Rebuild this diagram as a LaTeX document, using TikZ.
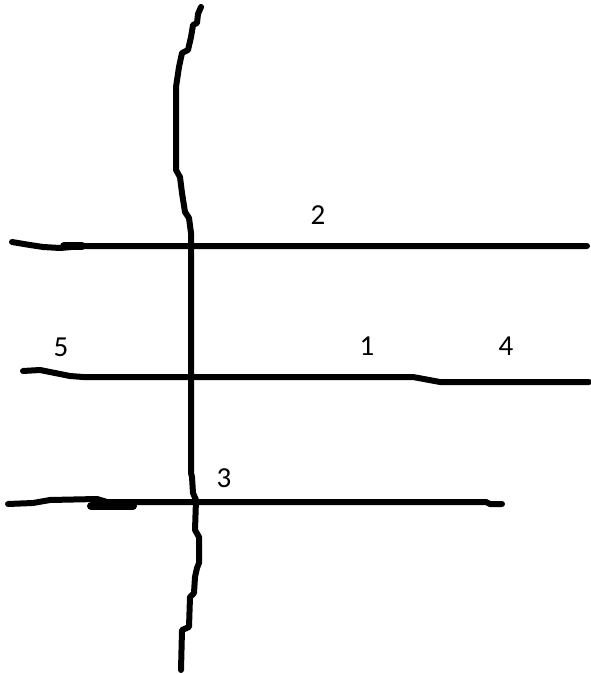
\documentclass[tikz,border=0pt]{standalone}
\usepackage{fontspec}
\setmainfont{Carlito}
\tikzset{
  stroke/.style={line width=6pt, line cap=round, line join=round},
  blob/.style={line width=8pt, line cap=round},
  num/.style={font=\fontsize{29}{29}\selectfont, inner sep=0pt}
}
\begin{document}
\begin{tikzpicture}[x=1pt, y=-1pt] % pixel coordinates, y downwards

        \useasboundingbox (0,0) rectangle (590,674);

        % Vertical wavy line
        \draw[stroke] (201,7) -- (198,14) -- (197,23) -- (193,25) -- (191,37) -- (188,50)
          -- (182,53) -- (179,67) -- (176,87) -- (176,170) -- (180,177) -- (182,193)
          -- (185,212) -- (189,218) -- (191,233) -- (191,473) -- (192,477) -- (193,493)
          -- (196,500) -- (195,530) -- (199,537) -- (199,563) -- (197,568) -- (195,577)
          -- (194,593) -- (190,597) -- (189,627) -- (182,630) -- (181,670);

        % Horizontal lines
        \draw[stroke] (12,242) -- (30,245) -- (43,247) -- (60,248) -- (83,246) -- (587,246);
        \draw[blob] (64,246) -- (82,246);

        \draw[stroke] (23,371) -- (40,370) -- (70,376) -- (83,377) -- (413,377) -- (440,382) -- (589,382);

        \draw[stroke] (8,504) -- (33,503) -- (50,500) -- (97,499) -- (107,502) -- (486,502) -- (490,504) -- (502,504);
        \draw[blob] (91,506) -- (133,506);

        % Labels
        \node[num] (two) at (318,215) {2};
        \node[num] (one) at (367,346) {1};
        \node[num] (four) at (506,346) {4};
        \node[num] (five) at (61,347) {5};
        \node[num] (three) at (224,478) {3};

\end{tikzpicture}
\end{document}
